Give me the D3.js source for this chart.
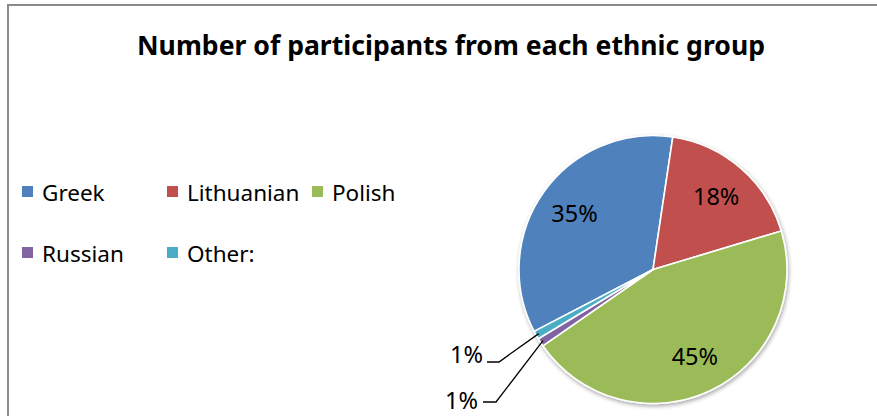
<!DOCTYPE html>
<html>
<head>
<meta charset="utf-8">
<script src="https://cdn.jsdelivr.net/npm/d3@7"></script>
<style>
  html, body { margin: 0; padding: 0; background: #fff; }
  svg { display: block; font-family: "Noto Sans", "Open Sans", sans-serif; }
</style>
</head>
<body>
<svg id="chart" width="877" height="416"></svg>
<script>
// Ethnic groups and their share of participants (%)
const groups = ["Greek", "Lithuanian", "Polish", "Russian", "Other:"];
const shares = [35, 18, 45, 1, 1];
const colors = ["#4F81BD", "#C0504D", "#9BBB59", "#8064A2", "#4BACC6"];
const title = "Number of participants from each ethnic group";

const svg = d3.select("#chart");

// chart area frame
svg.append("path")
  .attr("d", "M8,420 L8,5 L880,5")
  .attr("fill", "none")
  .attr("stroke", "#8a8a8a")
  .attr("stroke-width", 2);

// title
svg.append("text")
  .attr("x", 451).attr("y", 55)
  .attr("text-anchor", "middle")
  .attr("font-size", 27).attr("font-weight", "bold")
  .attr("textLength", 628).attr("lengthAdjust", "spacingAndGlyphs")
  .attr("fill", "#000")
  .text(title);

// drop shadow for the pie
const defs = svg.append("defs");
const f = defs.append("filter").attr("id", "shadow")
  .attr("x", "-10%").attr("y", "-10%").attr("width", "125%").attr("height", "125%");
f.append("feGaussianBlur").attr("in", "SourceAlpha").attr("stdDeviation", 2);
f.append("feOffset").attr("dx", 1).attr("dy", 2).attr("result", "b");
f.append("feComponentTransfer").append("feFuncA").attr("type", "linear").attr("slope", 0.35);
const m = f.append("feMerge");
m.append("feMergeNode");
m.append("feMergeNode").attr("in", "SourceGraphic");

// pie
const cx = 653, cy = 269.5, r = 134;
const data = groups.map((g, i) => ({ group: g, value: shares[i], color: colors[i] }));
const startDeg = 242.5;
const pie = d3.pie().value(d => d.value).sort(null)
  .startAngle(startDeg * Math.PI / 180)
  .endAngle((startDeg + 360) * Math.PI / 180);
const arcs = pie(data);
const arc = d3.arc().innerRadius(0).outerRadius(r);
const labelArc = d3.arc().innerRadius(r * 0.72).outerRadius(r * 0.72);

const g = svg.append("g").attr("transform", `translate(${cx},${cy})`);
g.append("g").attr("filter", "url(#shadow)")
  .selectAll("path").data(arcs).join("path")
  .attr("d", arc)
  .attr("fill", d => d.data.color)
  .attr("stroke", "#fff")
  .attr("stroke-width", 1.6)
  .attr("stroke-linejoin", "round");

// labels inside the large slices
g.selectAll("text.inner").data(arcs.filter(d => d.data.value >= 5)).join("text")
  .attr("class", "inner")
  .attr("transform", d => `translate(${labelArc.centroid(d)})`)
  .attr("text-anchor", "middle")
  .attr("dy", "0.36em")
  .attr("font-size", 23.5)
  .attr("fill", "#000")
  .text(d => d.data.value + "%");

// labels with leader lines for the small slices (Other:, Russian)
const small = [
  { arc: arcs[4], tx: 483, ty: 363, x0: 487, x1: 499, lineY: 362 },
  { arc: arcs[3], tx: 478, ty: 409, x0: 483, x1: 496, lineY: 402 }
];
small.forEach(s => {
  const a = (s.arc.startAngle + s.arc.endAngle) / 2;
  const ex = cx + Math.sin(a) * (r - 3);
  const ey = cy - Math.cos(a) * (r - 3);
  svg.append("polyline")
    .attr("points", `${s.x0},${s.lineY} ${s.x1},${s.lineY} ${ex},${ey}`)
    .attr("fill", "none")
    .attr("stroke", "#000")
    .attr("stroke-width", 1.3);
  svg.append("text")
    .attr("x", s.tx).attr("y", s.ty)
    .attr("text-anchor", "end")
    .attr("font-size", 23.5)
    .attr("fill", "#000")
    .text(s.arc.data.value + "%");
});

// legend
const legendPos = [
  { x: 22, y: 192 }, { x: 167, y: 192 }, { x: 312, y: 192 },
  { x: 22, y: 253 }, { x: 167, y: 253 }
];
const leg = svg.append("g").selectAll("g").data(data).join("g")
  .attr("transform", (d, i) => `translate(${legendPos[i].x},${legendPos[i].y})`);
leg.append("rect")
  .attr("x", 0).attr("y", -6).attr("width", 11).attr("height", 11)
  .attr("fill", d => d.color);
leg.append("text")
  .attr("x", 20).attr("y", 0)
  .attr("dy", "0.38em")
  .attr("font-size", 22.5)
  .attr("fill", "#000")
  .text(d => d.group);
</script>
</body>
</html>
